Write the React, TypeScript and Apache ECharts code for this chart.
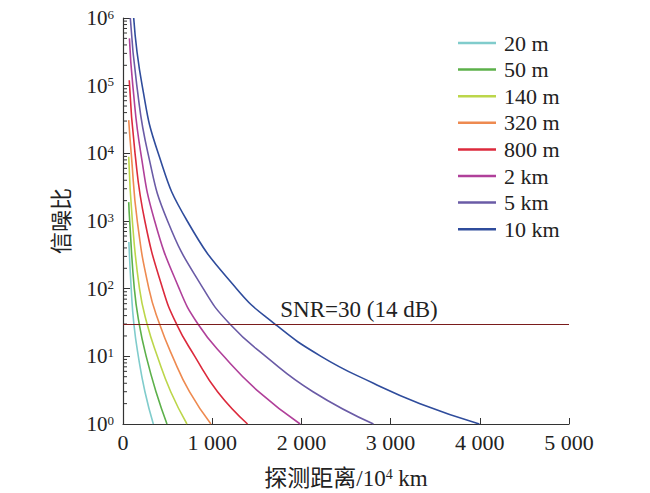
import { useEffect, useRef } from "react";
import * as echarts from "echarts";

// 各口径的曲线：[探测距离 (10^4 km), 信噪比]
const NAMES = ["20 m", "50 m", "140 m", "320 m", "800 m", "2 km", "5 km", "10 km"];
const COLORS = ["#80cccc", "#5cb04a", "#bcd64a", "#ee8a50", "#dc2a3c", "#b0409a", "#6a5ba6", "#2f4c9c"];

const C_20M = [[66, 490], [92, 100], [122, 30], [172, 10], [246, 3], [340, 1]];
const C_50M = [[64, 1900], [75, 1000], [127, 100], [182, 30], [260, 10], [370, 3], [493, 1]];
const C_140M = [[64, 8900], [105, 1000], [185, 100], [270, 30], [385, 10], [535, 3], [717, 1]];
const C_320M = [[64, 31000], [92, 10000], [160, 1000], [290, 100], [410, 30], [555, 10], [745, 3], [986, 1]];
const C_800M = [[70, 120000], [135, 10000], [245, 1000], [445, 100], [600, 30], [805, 10], [1060, 3], [1396, 1]];
const C_2KM = [[72, 500000], [110, 100000], [200, 10000], [355, 1000], [630, 100], [840, 30], [1130, 10], [1520, 3], [1986, 1]];
const C_5KM = [[82, 1000000], [155, 100000], [280, 10000], [500, 1000], [900, 100], [1198, 30], [1600, 10], [2130, 3], [2808, 1]];
const C_10KM = [[120, 1000000], [215, 100000], [395, 10000], [720, 1000], [1273, 100], [1703, 30], [2220, 10], [2808, 4], [3330, 2], [3995, 1]];
const CURVES = [C_20M, C_50M, C_140M, C_320M, C_800M, C_2KM, C_5KM, C_10KM];

const SNR_LIMIT = 30;
const SNR_LABEL = "SNR=30 (14 dB)";

const X_MAX = 5000;
const X_STEP = 1000;
const Y_MIN = 1;
const Y_MAX = 1e6;

// 对数轴的次刻度：2..9 × 10^k
const MINOR_MANTISSAS = [2, 3, 4, 5, 6, 7, 8, 9];
const DECADES = [1, 10, 100, 1000, 10000, 100000];
const MINOR_TICKS = DECADES.flatMap((d) => MINOR_MANTISSAS.map((m) => [0, m * d]));

const SERIF = "'Liberation Serif', 'Noto Sans CJK SC', serif";
const AXIS_COLOR = "#333";
const TEXT_COLOR = "#222";

const fmtThousands = (v: number) =>
  String(v).replace(/\B(?=(\d{3})+(?!\d))/g, " ");

export default function App() {
  const ref = useRef<HTMLDivElement>(null);

  useEffect(() => {
    if (!ref.current) return;
    const chart = echarts.init(ref.current, null, { renderer: "svg" });

    chart.setOption({
      animation: false,
      textStyle: { fontFamily: SERIF, color: TEXT_COLOR },
      grid: { left: 123, right: 81, top: 18, bottom: 69, outerBoundsMode: "none" },
      legend: {
        data: NAMES,
        orient: "vertical",
        left: 458,
        top: 32,
        padding: 0,
        icon: "rect",
        itemWidth: 38,
        itemHeight: 2.5,
        itemGap: 4.6,
        textStyle: { fontSize: 22, fontFamily: SERIF, color: TEXT_COLOR, lineHeight: 20, padding: [0, 0, 0, 3] },
      },
      xAxis: {
        type: "value",
        min: 0,
        max: X_MAX,
        interval: X_STEP,
        name: "{a|探测距离/10}{s|4}{a| km}",
        nameLocation: "middle",
        nameGap: 43,
        nameTextStyle: {
          rich: {
            a: { fontSize: 23, fontFamily: SERIF, color: TEXT_COLOR },
            s: { fontSize: 14, fontFamily: SERIF, color: TEXT_COLOR, verticalAlign: "top" },
          },
        },
        axisLine: { lineStyle: { color: AXIS_COLOR, width: 1.2 } },
        axisTick: { inside: true, length: 6, lineStyle: { color: AXIS_COLOR } },
        axisLabel: {
          fontSize: 22,
          fontFamily: SERIF,
          color: TEXT_COLOR,
          margin: 7,
          formatter: (v: number) => fmtThousands(v),
        },
        splitLine: { show: false },
      },
      yAxis: {
        type: "log",
        logBase: 10,
        min: Y_MIN,
        max: Y_MAX,
        name: "信噪比",
        nameLocation: "middle",
        nameGap: 51,
        nameTextStyle: { fontSize: 22, fontFamily: SERIF, color: TEXT_COLOR },
        axisLine: { show: true, lineStyle: { color: AXIS_COLOR, width: 1.2 } },
        axisTick: { inside: true, length: 7, lineStyle: { color: AXIS_COLOR } },
        axisLabel: {
          margin: 9,
          formatter: (v: number) => `{b|10}{e|${Math.round(Math.log10(v))}}`,
          rich: {
            b: { fontSize: 21, fontFamily: SERIF, color: TEXT_COLOR },
            e: { fontSize: 13, fontFamily: SERIF, color: TEXT_COLOR, verticalAlign: "top" },
          },
        },
        splitLine: { show: false },
      },
      series: [
        ...CURVES.map((data, i) => ({
          name: NAMES[i],
          type: "line",
          data,
          smooth: 0.5,
          symbol: "none",
          color: COLORS[i],
          lineStyle: { color: COLORS[i], width: 1.6 },
        })),
        {
          name: "SNR",
          type: "line",
          data: [],
          symbol: "none",
          markLine: {
            silent: true,
            symbol: "none",
            lineStyle: { color: "#7a1c1c", type: "solid", width: 1.2 },
            label: {
              position: "insideMiddleTop",
              formatter: SNR_LABEL,
              fontSize: 23,
              fontFamily: SERIF,
              color: TEXT_COLOR,
              distance: 3,
              padding: [0, 0, 0, 26],
            },
            data: [{ yAxis: SNR_LIMIT }],
          },
        },
        {
          name: "minor",
          type: "custom",
          silent: true,
          data: MINOR_TICKS,
          encode: { x: 0, y: 1 },
          renderItem: (_p: unknown, api: any) => {
            const pt = api.coord([api.value(0), api.value(1)]);
            return {
              type: "line",
              shape: { x1: pt[0], y1: pt[1], x2: pt[0] + 4, y2: pt[1] },
              style: { stroke: AXIS_COLOR, lineWidth: 1 },
            };
          },
        },
      ],
    });

    return () => chart.dispose();
  }, []);

  return (
    <div
      ref={ref}
      style={{ position: "fixed", left: 0, top: 0, width: 650, height: 493, background: "#fff" }}
    />
  );
}
